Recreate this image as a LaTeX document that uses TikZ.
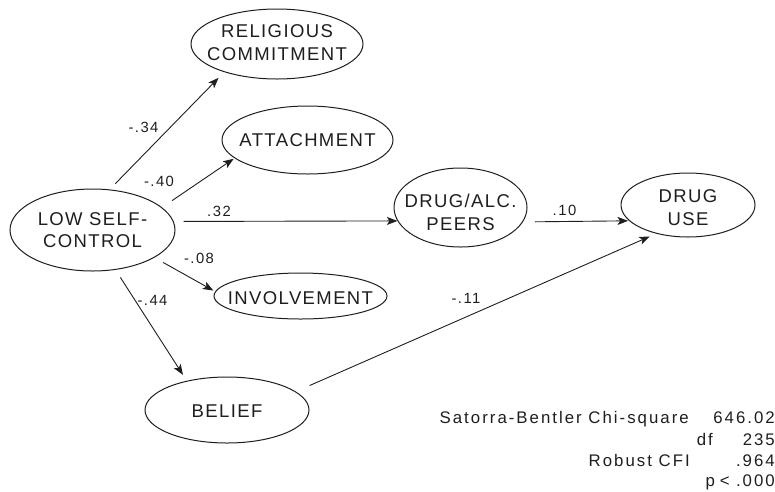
\documentclass[tikz,border=0pt]{standalone}
\usepackage{fontspec}
\setmainfont{Liberation Sans}[LetterSpace=7.5]
\newfontfamily\statfont{Liberation Sans}[LetterSpace=12]
\newfontfamily\lblfont{Liberation Sans}[LetterSpace=10]
\usetikzlibrary{shapes.geometric,arrows.meta}
\definecolor{ink}{HTML}{1E1E1E}
\begin{document}
\begin{tikzpicture}[x=1pt,y=-1pt,
  ell/.style={ellipse, draw=ink, line width=1pt, inner sep=0pt},
  etext/.style={align=center, font=\fontsize{18.5}{22.5}\selectfont, text=ink, inner sep=0pt},
  arr/.style={-{Stealth[length=10.5pt,width=8pt,inset=2.5pt]}, line width=0.9pt, draw=ink},
  lbl/.style={font=\lblfont\fontsize{14.8}{16}\selectfont, text=ink, inner sep=0pt},
  stat/.style={font=\statfont\fontsize{16.8}{20}\selectfont, anchor=base east, inner sep=0pt, text=ink}]
\useasboundingbox (0,0) rectangle (775,491);

% ellipses
\node[ell, minimum width=172pt, minimum height=70pt] (rel) at (277,44) {};
\node[ell, minimum width=171pt, minimum height=68pt] (att) at (307.5,140) {};
\node[ell, minimum width=165pt, minimum height=82pt] (lsc) at (92.5,230) {};
\node[ell, minimum width=133pt, minimum height=79pt] (peer) at (460.5,207.5) {};
\node[ell, minimum width=134pt, minimum height=64pt] (du) at (688,205) {};
\node[ell, minimum width=173pt, minimum height=46pt] (inv) at (300.5,296) {};
\node[ell, minimum width=164pt, minimum height=66pt] (bel) at (227,410) {};

% texts
\node[etext] (relt) at (277,42.8) {RELIGIOUS\\COMMITMENT};
\node[etext] (attt) at (307.5,140.5) {ATTACHMENT};
\node[etext] (lsct) at (92.5,230.3) {LOW SELF-\\CONTROL};
\node[etext] (peert) at (460.5,212.4) {DRUG/ALC.\\PEERS};
\node[etext] (dut) at (688,207.4) {DRUG\\USE};
\node[etext] (invt) at (300.5,298) {INVOLVEMENT};
\node[etext] (belt) at (227,411) {BELIEF};

% connectors
\draw[arr, shorten <=8pt, shorten >=8pt] (lsc.67.9) -- (rel.208.9);
\draw[arr, shorten <=12pt, shorten >=1pt] (lsc.18.8) -- (att.194.7);
\draw[arr, shorten <=10pt] (lsc.6.4) -- (peer.192.2);
\draw[arr, shorten <=12pt, shorten >=1pt] (peer.347.8) -- (du.195.4);
\draw[arr, shorten <=15pt, shorten >=7pt] (bel.15.7) -- (du.222.5);
\draw[arr, shorten <=10pt, shorten >=2pt] (lsc.336.6) -- (inv.177.4);
\draw[arr, shorten <=9pt, shorten >=7pt] (lsc.300.2) -- (bel.144.3);

% path labels
\node[lbl] (l34) at (143.5,127) {-.34};
\node[lbl] (l40) at (159,181) {-.40};
\node[lbl] (l32) at (219,211) {.32};
\node[lbl] (l10) at (564.5,210) {.10};
\node[lbl] (l08) at (199,258) {-.08};
\node[lbl] (l44) at (152.5,300) {-.44};
\node[lbl] (l11) at (466,298) {-.11};

% fit statistics
\node[stat] (s1a) at (689,423) {Satorra-Bentler Chi-square};
\node[stat] (s1b) at (775,423) {646.02};
\node[stat] (s2a) at (713,445) {df};
\node[stat] (s2b) at (775,445) {235};
\node[stat] (s3a) at (690,466) {Robust CFI};
\node[stat] (s3b) at (775,466) {.964};
\node[stat] (s4a) at (730,486) {p\hspace{5pt}<};
\node[stat] (s4b) at (775,486) {.000};
\end{tikzpicture}
\end{document}
